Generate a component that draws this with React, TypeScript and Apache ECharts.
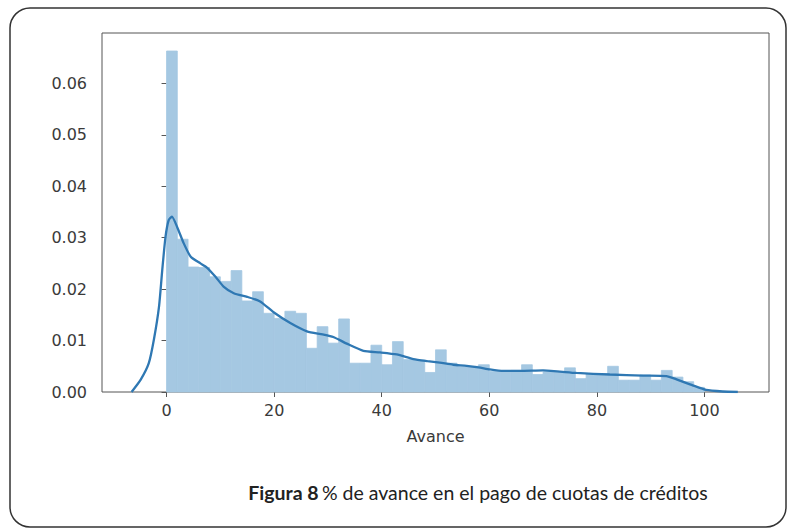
import React, { useEffect, useRef } from "react";
import * as echarts from "echarts";

// Histogram (density) of "Avance", bins of width 2 starting at 0
const BIN_WIDTH = 2;
const density = [
  0.0663, 0.0297, 0.0243, 0.0242, 0.0224, 0.0215, 0.0236, 0.0177, 0.0195, 0.0153,
  0.0143, 0.0157, 0.0153, 0.0085, 0.0127, 0.0095, 0.0142, 0.0056, 0.0056, 0.0091,
  0.0053, 0.0098, 0.0063, 0.0062, 0.0038, 0.0082, 0.0056, 0.0049, 0.0050, 0.0053,
  0.0040, 0.0040, 0.0042, 0.0053, 0.0034, 0.0039, 0.0039, 0.0047, 0.0026, 0.0035,
  0.0035, 0.0050, 0.0023, 0.0023, 0.0033, 0.0023, 0.0042, 0.0029, 0.0020, 0.0009,
];

// KDE curve
const kdeX = [
  -6.5, -4.8, -3.3, -2.35, -1.4, -0.8, -0.2, 0.4, 1.0, 2.0, 3.2, 4.5, 6.3, 7.5, 9.1,
  10.6, 12.5, 15.0, 17.4, 19.9, 23.0, 26.1, 29.0, 31.0, 33.5, 36.6, 39.7, 42.8, 45.9,
  48.5, 50.8, 53.3, 55.8, 58.0, 60.1, 62.6, 65.7, 70.0, 76.2, 82.4, 88.6, 92.9, 94.7,
  97.8, 100.3, 103.4, 106.2,
];
const kdeY = [
  0.0, 0.0024, 0.0056, 0.0102, 0.0166, 0.0237, 0.0301, 0.0334, 0.0341, 0.032, 0.0289,
  0.0263, 0.025, 0.0242, 0.0224, 0.0205, 0.0192, 0.0185, 0.0176, 0.0155, 0.0134,
  0.0118, 0.0112, 0.0107, 0.0094, 0.0080, 0.0077, 0.0073, 0.0064, 0.0060, 0.0057,
  0.0053, 0.0051, 0.0048, 0.0044, 0.0041, 0.0041, 0.0042, 0.0037, 0.0034, 0.0032,
  0.0031, 0.0025, 0.0013, 0.0004, 0.0001, 0.0,
];

const xTicks = [0, 20, 40, 60, 80, 100];
const yTicks = [0, 0.01, 0.02, 0.03, 0.04, 0.05, 0.06];

const xAxisName = "Avance";
const captionBold = "Figura 8";
const captionRest = "% de avance en el pago de cuotas de créditos";

const BAR_COLOR = "#a5c8e2";
const LINE_COLOR = "#2f78b3";
const AXIS_COLOR = "#555555";
const TEXT_COLOR = "#3a3a3a";

export default function App() {
  const ref = useRef<HTMLDivElement>(null);

  useEffect(() => {
    if (!ref.current) return;
    const chart = echarts.init(ref.current, null, { renderer: "svg" });

    const histData = density.map((d, i) => [i * BIN_WIDTH, (i + 1) * BIN_WIDTH, d]);
    const kdeData = kdeX.map((x, i) => [x, kdeY[i]]);

    chart.setOption({
      animation: false,
      backgroundColor: "#ffffff",
      grid: {
        left: 102,
        top: 33,
        right: 22,
        bottom: 137,
        show: true,
        borderColor: AXIS_COLOR,
        borderWidth: 1,
        backgroundColor: "transparent",
      },
      xAxis: {
        type: "value",
        min: -12,
        max: 112,
        name: xAxisName,
        nameLocation: "middle",
        nameGap: 36,
        nameTextStyle: { fontFamily: "DejaVu Sans", fontSize: 16, color: TEXT_COLOR },
        splitLine: { show: false },
        axisLine: { show: false },
        axisTick: {
          show: true,
          length: 5,
          lineStyle: { color: AXIS_COLOR },
          customValues: xTicks,
        },
        axisLabel: {
          fontFamily: "DejaVu Sans",
          fontSize: 16,
          color: TEXT_COLOR,
          margin: 10,
          customValues: xTicks,
          formatter: (v: number) => String(v),
        },
      },
      yAxis: {
        type: "value",
        min: 0,
        max: 0.0698,
        splitLine: { show: false },
        axisLine: { show: false },
        axisTick: {
          show: true,
          length: 5,
          lineStyle: { color: AXIS_COLOR },
          customValues: yTicks,
        },
        axisLabel: {
          fontFamily: "DejaVu Sans",
          fontSize: 16,
          color: TEXT_COLOR,
          margin: 15,
          customValues: yTicks,
          formatter: (v: number) => v.toFixed(2),
        },
      },
      series: [
        {
          type: "custom",
          data: histData,
          encode: { x: [0, 1], y: 2 },
          renderItem: (params: any, api: any) => {
            const x0 = api.value(0);
            const x1 = api.value(1);
            const y = api.value(2);
            const p0 = api.coord([x0, y]);
            const p1 = api.coord([x1, 0]);
            return {
              type: "rect",
              shape: { x: p0[0], y: p0[1], width: p1[0] - p0[0], height: p1[1] - p0[1] },
              style: { fill: BAR_COLOR, stroke: BAR_COLOR, lineWidth: 0.8 },
            };
          },
        },
        {
          type: "line",
          data: kdeData,
          smooth: 0.2,
          symbol: "none",
          lineStyle: { color: LINE_COLOR, width: 2.3 },
          z: 5,
        },
      ],
      graphic: [
        {
          type: "rect",
          shape: { x: 10, y: 8, width: 776, height: 519, r: 20 },
          style: { fill: "none", stroke: "#333333", lineWidth: 1.5 },
          silent: true,
        },
        {
          type: "text",
          x: 478,
          y: 492,
          style: {
            text: `{b|${captionBold}} {n|${captionRest}}`,
            align: "center",
            verticalAlign: "middle",
            fill: "#222222",
            rich: {
              b: { fontFamily: "Lato", fontSize: 19.5, fontWeight: "bold", fill: "#222222" },
              n: { fontFamily: "Lato", fontSize: 19.5, fill: "#222222" },
            },
          },
        },
      ],
    });

    return () => chart.dispose();
  }, []);

  return (
    <div
      ref={ref}
      style={{ position: "fixed", left: 0, top: 0, width: 791, height: 529, background: "#fff" }}
    />
  );
}
